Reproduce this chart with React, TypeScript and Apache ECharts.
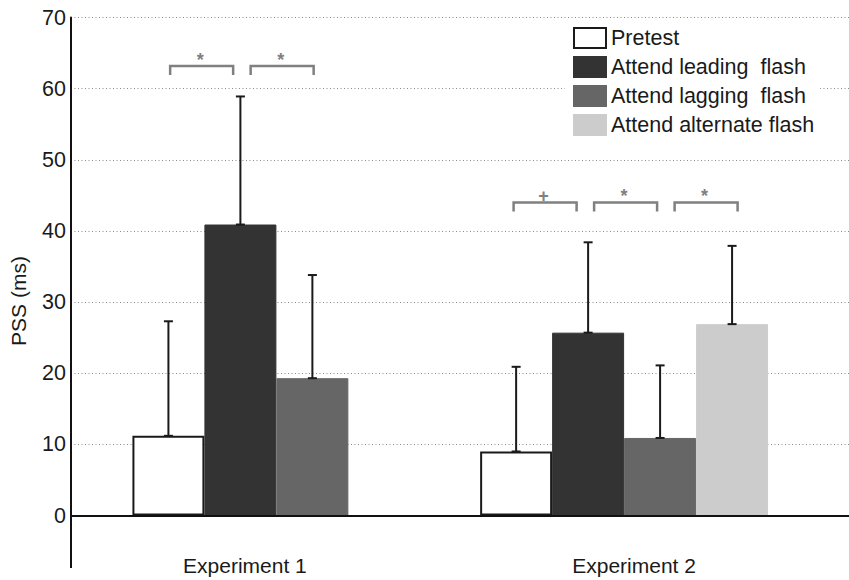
import React, { useEffect, useRef } from "react";
import * as echarts from "echarts";

const categories = ["Experiment 1", "Experiment 2"];
const seriesNames = ["Pretest", "Attend leading  flash", "Attend lagging  flash", "Attend alternate flash"];
const pretestMean = [11.2, 9.0];
const leadingMean = [40.9, 25.7];
const laggingMean = [19.3, 10.9];
const alternateMean = [null, 26.9];
const pretestSD = [16.1, 11.9];
const leadingSD = [18.0, 12.7];
const laggingSD = [14.5, 10.2];
const alternateSD = [null, 11.0];
const sigExp1 = ["*", "*"];
const sigExp2 = ["+", "*", "*"];
const sigLevels = [63.2, 44.0];
const yTicks = [0, 10, 20, 30, 40, 50, 60, 70];

const FONT = "'Liberation Sans', Arial, Helvetica, sans-serif";
const TEXT = "#1a1a1a";
const BAR_FRAC = 0.1876;
const barColors = ["#ffffff", "#333333", "#666666", "#cccccc"];
const barBorders = ["#1a1a1a", "#333333", "#666666", "#cccccc"];
const barBorderWidths = [2, 1, 1, 1];

const GRID_TOP = 17.5;
const GRID_BOTTOM = 64.5;

export default function App() {
  const ref = useRef<HTMLDivElement>(null);
  useEffect(() => {
    if (!ref.current) return;
    document.body.style.margin = "0";
    const chart = echarts.init(ref.current, null, { renderer: "svg" });
    const means = [pretestMean, leadingMean, laggingMean, alternateMean];
    const sds = [pretestSD, leadingSD, laggingSD, alternateSD];
    const sigs = [sigExp1, sigExp2];

    const barSeries: any[] = [];
    const errData: any[] = [];
    categories.forEach((_, c) => {
      const present = means.map((m, s) => (m[c] != null ? s : -1)).filter((s) => s >= 0);
      present.forEach((s, slot) => {
        barSeries.push({
          type: "bar",
          name: seriesNames[s],
          xAxisIndex: 1 + c,
          yAxisIndex: 1,
          barWidth: BAR_FRAC * 100 + "%",
          barGap: "0%",
          z: 2,
          itemStyle: { color: barColors[s], borderColor: barBorders[s], borderWidth: barBorderWidths[s] },
          data: categories.map((__, j) => (j === c ? means[s][j] : null)),
        });
        errData.push([c, slot, present.length, means[s][c], (means[s][c] as number) + (sds[s][c] as number)]);
      });
    });

    const sigData: any[] = [];
    sigs.forEach((list, c) => list.forEach((sym, k) => sigData.push([c, k, list.length, sigLevels[c], sym])));

    const option: any = {
      animation: false,
      grid: [
        { left: 71, right: 0, top: GRID_TOP, bottom: GRID_BOTTOM },
        { left: 48.55, width: 767.4, top: GRID_TOP, bottom: GRID_BOTTOM },
      ],
      legend: {
        orient: "vertical",
        left: 565,
        top: 23,
        padding: [4, 6, 4, 8],
        backgroundColor: "#ffffff",
        icon: "rect",
        itemWidth: 32,
        itemHeight: 20,
        itemGap: 7,
        selectedMode: false,
        data: seriesNames,
        textStyle: { fontSize: 21.5, color: TEXT, fontFamily: FONT, lineHeight: 21 },
      },
      xAxis: [
        {
          gridIndex: 0,
          type: "category",
          data: categories,
          z: 10,
          axisLine: { show: true, lineStyle: { color: "#111", width: 2 } },
          axisTick: { show: false },
          axisLabel: { show: false },
          splitLine: { show: false },
        },
        {
          gridIndex: 1,
          type: "category",
          data: categories,
          axisLine: { show: false },
          axisTick: { show: false },
          splitLine: { show: false },
          axisLabel: {
            margin: 39,
            formatter: (v: string, i: number) => `{c${i}|${v}}`,
            rich: {
              c0: { fontSize: 21, color: TEXT, fontFamily: FONT, padding: [0, 0, 0, 9] },
              c1: { fontSize: 21, color: TEXT, fontFamily: FONT, padding: [0, 0, 0, 20] },
            },
          },
        },
        {
          gridIndex: 1,
          type: "category",
          data: categories,
          show: false,
        },
      ],
      yAxis: [
        {
          gridIndex: 0,
          type: "value",
          min: yTicks[0],
          max: yTicks[yTicks.length - 1],
          interval: yTicks[1] - yTicks[0],
          name: "PSS (ms)",
          nameLocation: "middle",
          nameGap: 42,
          nameTextStyle: { fontSize: 21, color: TEXT, fontFamily: FONT, padding: [0, 69, 0, 0] },
          axisLine: { show: true, lineStyle: { color: "#111", width: 2 } },
          axisTick: { show: false },
          axisLabel: { fontSize: 21.5, color: TEXT, fontFamily: FONT, margin: 5 },
          splitLine: { show: true, lineStyle: { color: "#8a8a8a", width: 1, type: [1, 2.5] } },
        },
        {
          gridIndex: 1,
          type: "value",
          min: yTicks[0],
          max: yTicks[yTicks.length - 1],
          show: false,
          splitLine: { show: false },
        },
      ],
      graphic: [
        {
          type: "line",
          shape: { x1: 71, y1: 580 - GRID_BOTTOM, x2: 71, y2: 568 },
          style: { stroke: "#111", lineWidth: 2 },
        },
      ],
      series: [
        ...barSeries,
        {
          type: "custom",
          name: "errors",
          xAxisIndex: 1,
          yAxisIndex: 1,
          z: 5,
          data: errData,
          encode: { x: 0, y: 4 },
          renderItem: (params: any, api: any) => {
            const c = api.value(0);
            const slot = api.value(1);
            const n = api.value(2);
            const lo = api.coord([c, api.value(3)]);
            const hi = api.coord([c, api.value(4)]);
            const bw = api.size([1, 0])[0] * BAR_FRAC;
            const x = lo[0] + (slot - (n - 1) / 2) * bw;
            const style = { stroke: "#1a1a1a", lineWidth: 2 };
            return {
              type: "group",
              children: [
                { type: "line", shape: { x1: x, y1: lo[1], x2: x, y2: hi[1] }, style },
                { type: "line", shape: { x1: x - 4.5, y1: hi[1], x2: x + 4.5, y2: hi[1] }, style },
                { type: "line", shape: { x1: x - 4.5, y1: lo[1], x2: x + 4.5, y2: lo[1] }, style },
              ],
            };
          },
        },
        {
          type: "custom",
          name: "significance",
          xAxisIndex: 1,
          yAxisIndex: 1,
          z: 5,
          data: sigData,
          encode: { x: 0, y: 3 },
          renderItem: (params: any, api: any) => {
            const c = api.value(0);
            const k = api.value(1);
            const n = api.value(2);
            const p = api.coord([c, api.value(3)]);
            const band = api.size([1, 0])[0];
            const pitch = band * 0.2098;
            const mid = p[0] + 1.5 + (k - (n - 1) / 2) * pitch;
            const half = 31.5;
            const leg = 9;
            const sym = sigData[params.dataIndex][4];
            return {
              type: "group",
              children: [
                {
                  type: "polyline",
                  shape: {
                    points: [
                      [mid - half, p[1] + leg],
                      [mid - half, p[1]],
                      [mid + half, p[1]],
                      [mid + half, p[1] + leg],
                    ],
                  },
                  style: { stroke: "#808080", lineWidth: 2.5, fill: null },
                },
                {
                  type: "text",
                  x: mid - 1.5,
                  y: p[1] - 6,
                  style: {
                    text: sym,
                    fill: "#808080",
                    font: `bold 18px ${FONT}`,
                    align: "center",
                    verticalAlign: "middle",
                    textAlign: "center",
                    textVerticalAlign: "middle",
                  },
                },
              ],
            };
          },
        },
      ],
    };
    chart.setOption(option);
    return () => chart.dispose();
  }, []);
  return <div ref={ref} style={{ width: 849, height: 580 }} />;
}
